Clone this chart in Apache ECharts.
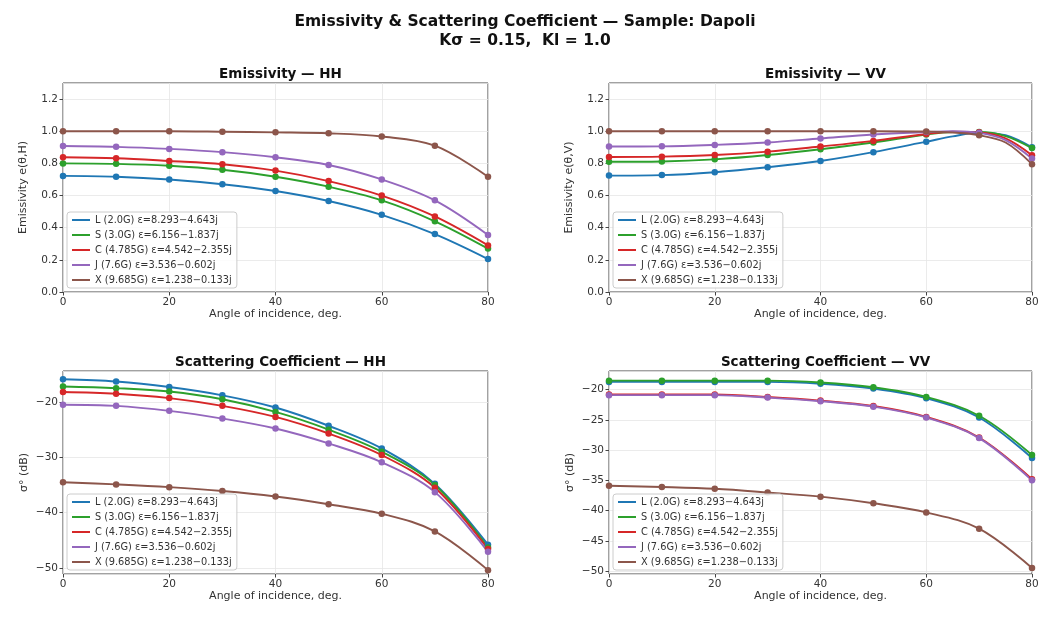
<!DOCTYPE html>
<html>
<head>
<meta charset="utf-8">
<script src="https://cdn.jsdelivr.net/npm/echarts@6/dist/echarts.min.js"></script>
<style>
  html, body { margin: 0; padding: 0; background: #fff; }
  #chart { width: 1042px; height: 620px; }
</style>
</head>
<body>
<div id="chart"></div>
<script>
// band names (legend)
const bands = [
  "L (2.0G) ε=8.293−4.643j",
  "S (3.0G) ε=6.156−1.837j",
  "C (4.785G) ε=4.542−2.355j",
  "J (7.6G) ε=3.536−0.602j",
  "X (9.685G) ε=1.238−0.133j"
];
const colors = ["#1f77b4", "#2ca02c", "#d62728", "#9467bd", "#8c564b"];

// angles of incidence
const angles = [0, 10, 20, 30, 40, 50, 60, 70, 80];
const anglesVV = [0, 10, 20, 30, 40, 50, 60, 65, 70, 75, 80];

// emissivity HH (per band, at angles)
const emisHH_L = [0.722, 0.717, 0.70, 0.67, 0.628, 0.566, 0.48, 0.36, 0.205];
const emisHH_S = [0.80, 0.797, 0.785, 0.76, 0.717, 0.655, 0.57, 0.44, 0.27];
const emisHH_C = [0.838, 0.832, 0.815, 0.795, 0.755, 0.69, 0.60, 0.47, 0.29];
const emisHH_J = [0.908, 0.903, 0.89, 0.87, 0.838, 0.79, 0.70, 0.57, 0.355];
const emisHH_X = [1.0, 1.0, 1.0, 0.997, 0.993, 0.987, 0.967, 0.91, 0.717];

// emissivity VV (per band, at anglesVV)
const emisVV_L = [0.724, 0.727, 0.745, 0.776, 0.815, 0.87, 0.935, 0.968, 0.99, 0.975, 0.90];
const emisVV_S = [0.81, 0.812, 0.825, 0.852, 0.888, 0.93, 0.98, 0.995, 0.995, 0.97, 0.895];
const emisVV_C = [0.84, 0.842, 0.852, 0.873, 0.905, 0.94, 0.983, 0.997, 0.993, 0.955, 0.85];
const emisVV_J = [0.905, 0.906, 0.915, 0.93, 0.955, 0.98, 0.995, 1.0, 0.99, 0.945, 0.83];
const emisVV_X = [1.0, 1.0, 1.0, 1.0, 1.0, 1.0, 0.998, 0.992, 0.975, 0.93, 0.795];

// scattering coefficient HH (dB)
const sigHH_L = [-15.9, -16.3, -17.3, -18.8, -21.0, -24.3, -28.4, -34.8, -45.8];
const sigHH_S = [-17.2, -17.5, -18.1, -19.5, -21.8, -25.0, -29.0, -35.0, -46.3];
const sigHH_C = [-18.2, -18.5, -19.3, -20.7, -22.7, -25.7, -29.6, -35.5, -46.6];
const sigHH_J = [-20.5, -20.7, -21.6, -23.0, -24.8, -27.5, -30.9, -36.3, -47.1];
const sigHH_X = [-34.5, -34.9, -35.4, -36.1, -37.1, -38.5, -40.2, -43.4, -50.4];

// scattering coefficient VV (dB)
const sigVV_L = [-18.7, -18.7, -18.7, -18.7, -19.0, -19.8, -21.4, -24.6, -31.3];
const sigVV_S = [-18.5, -18.5, -18.5, -18.5, -18.8, -19.6, -21.2, -24.3, -30.8];
const sigVV_C = [-20.8, -20.8, -20.8, -21.2, -21.8, -22.7, -24.5, -27.9, -34.8];
const sigVV_J = [-20.9, -20.9, -20.9, -21.3, -21.9, -22.8, -24.6, -28.0, -35.0];
const sigVV_X = [-35.9, -36.1, -36.4, -37.0, -37.7, -38.8, -40.3, -43.0, -49.5];

const panels = [
  { title: "Emissivity — HH", yName: "Emissivity e(θ,H)", x: angles,
    data: [emisHH_L, emisHH_S, emisHH_C, emisHH_J, emisHH_X] },
  { title: "Emissivity — VV", yName: "Emissivity e(θ,V)", x: anglesVV,
    data: [emisVV_L, emisVV_S, emisVV_C, emisVV_J, emisVV_X] },
  { title: "Scattering Coefficient — HH", yName: "σ° (dB)", x: angles,
    data: [sigHH_L, sigHH_S, sigHH_C, sigHH_J, sigHH_X] },
  { title: "Scattering Coefficient — VV", yName: "σ° (dB)", x: angles,
    data: [sigVV_L, sigVV_S, sigVV_C, sigVV_J, sigVV_X] }
];

const chart = echarts.init(document.getElementById("chart"));
const font = "DejaVu Sans";

// plot area boxes
const boxes = [
  { left: 63, top: 83, width: 425, height: 209 },
  { left: 609, top: 83, width: 423, height: 209 },
  { left: 63, top: 371, width: 425, height: 203 },
  { left: 609, top: 371, width: 423, height: 203 }
];
const yRanges = [
  { min: 0, max: 1.3, interval: 0.2 },
  { min: 0, max: 1.3, interval: 0.2 },
  { min: -51.1, max: -14.4, splitNumber: 4 },
  { min: -50.5, max: -16.9, splitNumber: 6 }
];

const grid = [], xAxis = [], yAxis = [], series = [], legend = [];
const title = [{
  text: "Emissivity & Scattering Coefficient — Sample: Dapoli\nKσ = 0.15,  Kl = 1.0",
  left: 520, top: 7, textAlign: "center",
  textStyle: { fontFamily: font, fontSize: 15.5, fontWeight: "bold", color: "#111", lineHeight: 19 }
}];

panels.forEach((p, i) => {
  const b = boxes[i];
  grid.push({
    left: b.left, top: b.top, width: b.width, height: b.height,
    show: true, borderColor: "#444", borderWidth: 1, backgroundColor: "transparent"
  });
  title.push({
    text: p.title, left: b.left + b.width / 2, top: b.top - 21, textAlign: "center",
    textStyle: { fontFamily: font, fontSize: 13.5, fontWeight: "bold", color: "#111" }
  });
  xAxis.push({
    type: "value", gridIndex: i, min: 0, max: 80, interval: 20,
    name: "Angle of incidence, deg.", nameLocation: "middle", nameGap: 15,
    nameTextStyle: { fontFamily: font, fontSize: 11, color: "#333" },
    axisLine: { show: false },
    axisTick: { length: 3.5, lineStyle: { color: "#444" } },
    axisLabel: { fontFamily: font, fontSize: 10.5, color: "#333", margin: 5 },
    splitLine: { show: true, lineStyle: { color: "#e6e6e6", width: 0.8 } }
  });
  const r = yRanges[i];
  yAxis.push(Object.assign({
    type: "value", gridIndex: i,
    name: p.yName, nameLocation: "middle", nameGap: i < 2 ? 34 : 33,
    nameTextStyle: { fontFamily: font, fontSize: 11, color: "#333" },
    axisLine: { show: false },
    axisTick: { length: 3.5, lineStyle: { color: "#444" } },
    axisLabel: {
      fontFamily: font, fontSize: 10.5, color: "#333", margin: 5,
      showMaxLabel: false, showMinLabel: i < 2,
      formatter: v => i < 2 ? v.toFixed(1) : String(Math.round(v)).replace("-", "−")
    },
    splitLine: { show: true, lineStyle: { color: "#e6e6e6", width: 0.8 } }
  }, r));
  legend.push({
    data: bands, orient: "vertical",
    left: b.left + 4, bottom: 620 - (b.top + b.height) + 4,
    icon: "rect", itemWidth: 18, itemHeight: 2, itemGap: 5,
    backgroundColor: "rgba(255,255,255,0.85)", borderColor: "#ccc", borderWidth: 1,
    borderRadius: 3, padding: [3, 5, 3, 5],
    textStyle: { fontFamily: font, fontSize: 9.8, color: "#333" }
  });
  p.data.forEach((vals, k) => {
    series.push({
      type: "line", name: bands[k], xAxisIndex: i, yAxisIndex: i,
      data: vals.map((v, j) => [p.x[j], v]),
      smooth: 0.35,
      symbol: "circle",
      symbolSize: val => (val[0] % 10 === 0 ? 6.5 : 0),
      showSymbol: true,
      lineStyle: { color: colors[k], width: 1.9 },
      itemStyle: { color: colors[k] },
      emphasis: { disabled: true },
      animation: false
    });
  });
});

chart.setOption({
  backgroundColor: "#fff",
  animation: false,
  title, grid, xAxis, yAxis, legend, series
});
</script>
</body>
</html>
